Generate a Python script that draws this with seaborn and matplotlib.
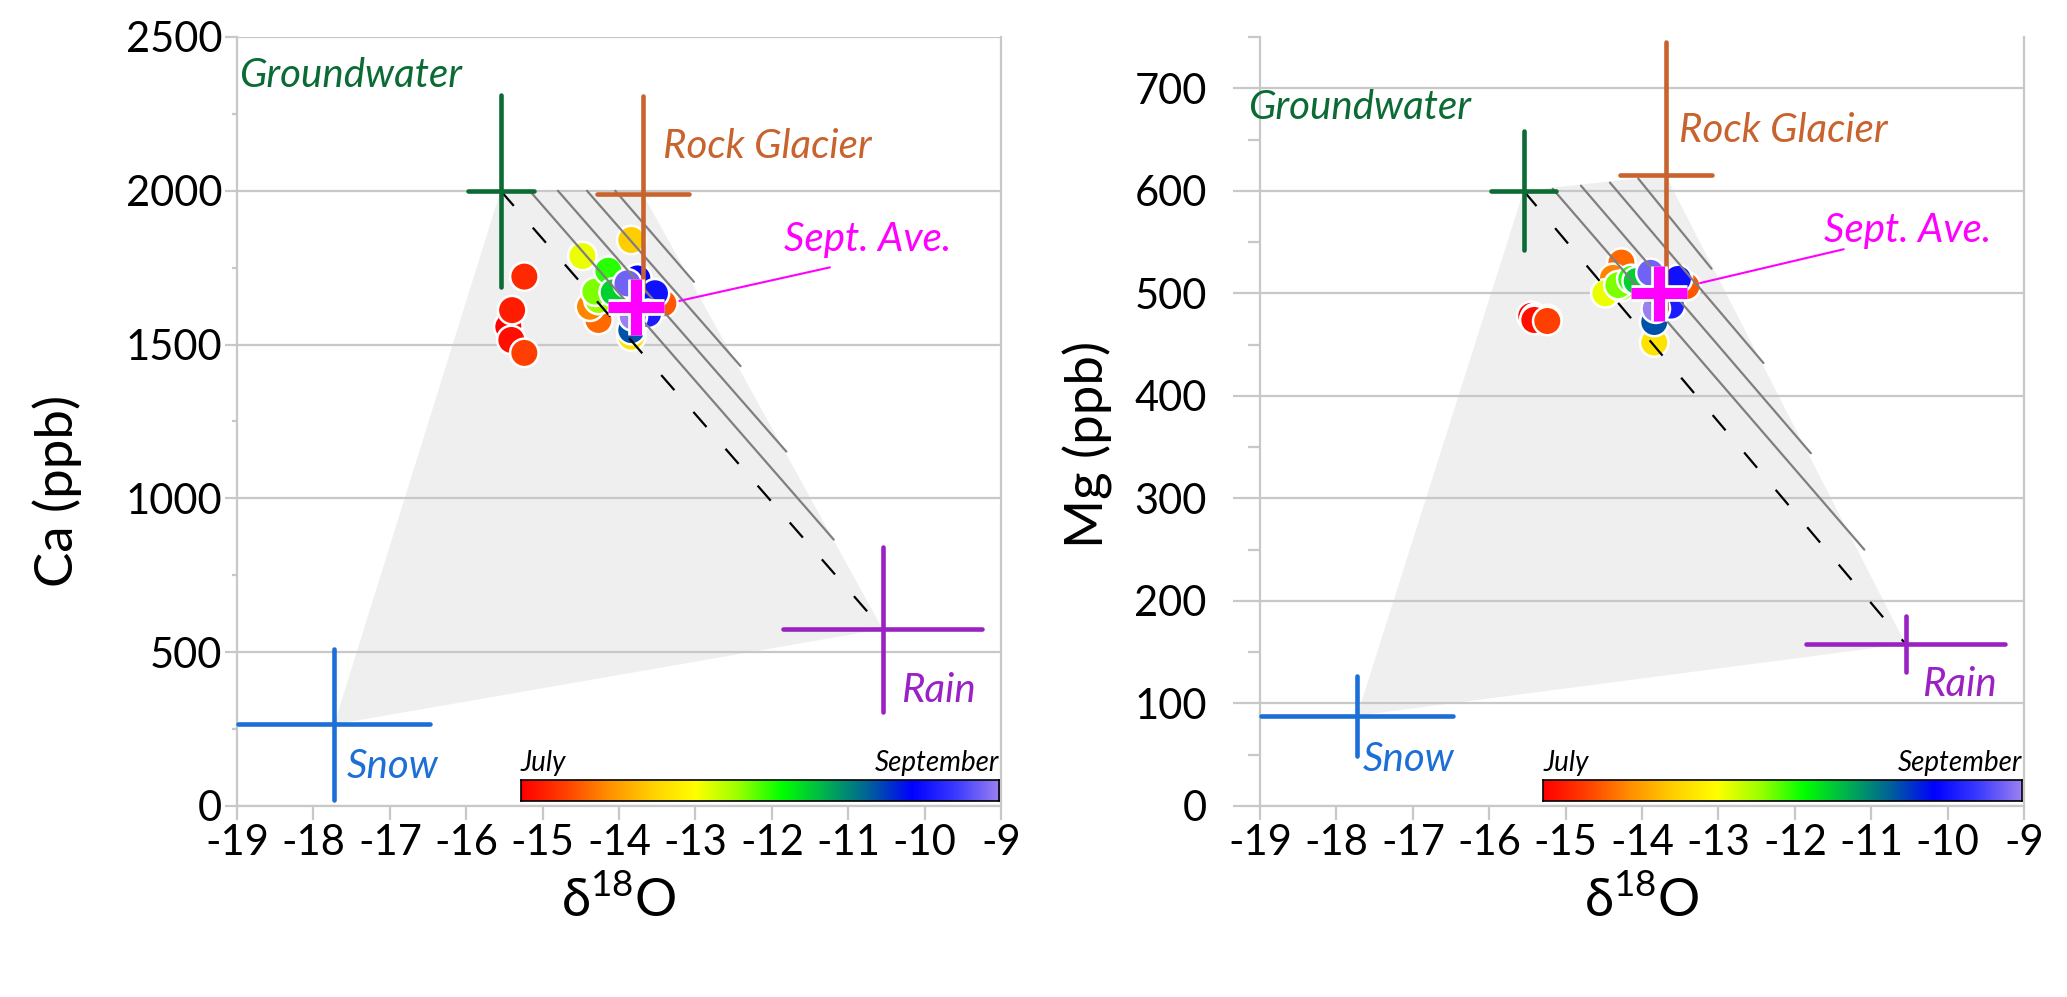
import numpy as np
import pandas as pd
import matplotlib
matplotlib.use("Agg")
import matplotlib.pyplot as plt
import matplotlib.patheffects as pe
import seaborn as sns
from matplotlib.colors import LinearSegmentedColormap
from matplotlib.ticker import MultipleLocator

sns.set_style("white")
plt.rcParams["font.family"] = ["Lato", "DejaVu Sans"]
plt.rcParams["axes.unicode_minus"] = False
plt.rcParams["mathtext.fontset"] = "custom"
plt.rcParams["mathtext.rm"] = "Lato"
plt.rcParams["text.color"] = "black"
plt.rcParams["axes.labelcolor"] = "black"
plt.rcParams["xtick.labelcolor"] = "black"
plt.rcParams["ytick.labelcolor"] = "black"

# stream samples, time fraction 0 = July, 1 = September
sample_time = [0.00, 0.04, 0.06, 0.02, 0.09, 0.14, 0.17, 0.12, 0.27, 0.31, 0.38,
               0.45, 0.47, 0.52, 0.60, 0.74, 0.82, 0.84, 0.86, 0.96, 1.00]
sample_d18o = [-15.45, -15.40, -15.24, -15.41, -15.24, -14.27, -14.38, -13.42, -13.84, -13.84, -14.48,
               -14.27, -14.31, -14.14, -14.07, -13.84, -13.76, -13.53, -13.62, -13.89, -13.82]
sample_ca = [1558, 1612, 1721, 1515, 1473, 1580, 1623, 1634, 1840, 1526, 1788,
             1645, 1672, 1740, 1670, 1547, 1715, 1667, 1600, 1699, 1591]
sample_mg = [478, 476, 475, 474, 473, 530, 515, 507, 515, 452, 500,
             506, 508, 514, 512, 472, 514, 514, 488, 520, 485]

# end members: Groundwater, Rock Glacier, Rain, Snow
end_names = ["Groundwater", "Rock Glacier", "Rain", "Snow"]
end_d18o = [-15.55, -13.69, -10.55, -17.73]
end_d18o_err = [0.43, 0.60, 1.30, 1.26]
end_ca = [2000, 1990, 575, 265]
end_ca_err = [312, 318, 268, 244]
end_mg = [600, 615, 158, 88]
end_mg_err = [58, 130, 27, 39]
end_colors = ["#0B6B34", "#C8632E", "#9A22C4", "#1C6FD6"]

# September average
sept_d18o = -13.78
sept_ca = 1622
sept_mg = 500

# gray reference lines parallel to the groundwater-rain mixing line
ref_start_d18o = [-15.17, -14.80, -14.42, -14.05]
ref_end_d18o_ca = [-11.19, -11.81, -12.41, -13.02]
ref_start_ca = [2000, 2000, 2000, 2000]
ref_end_ca = [866, 1152, 1430, 1704]
ref_end_d18o_mg = [-11.09, -11.79, -12.41, -13.09]
ref_start_mg = [602, 605, 608, 612]
ref_end_mg = [250, 344, 432, 524]

time_colors = ["#FF0000", "#FF4000", "#FF9000", "#FFD000", "#FFFF00", "#99FF00", "#00FF00",
               "#00B050", "#00609A", "#0000FF", "#3A3AFF", "#9A80F0"]
cmap = LinearSegmentedColormap.from_list("season", time_colors)

samples = pd.DataFrame({"t": sample_time, "d18O": sample_d18o, "Ca": sample_ca, "Mg": sample_mg})
ends = pd.DataFrame({"name": end_names, "d18O": end_d18o, "dx": end_d18o_err,
                     "Ca": end_ca, "dCa": end_ca_err, "Mg": end_mg, "dMg": end_mg_err,
                     "color": end_colors})

fig = plt.figure(figsize=(20.67, 9.97), dpi=100)
ax_ca = fig.add_axes([0.1147, 0.1916, 0.3696, 0.7713])
ax_mg = fig.add_axes([0.6096, 0.1916, 0.3696, 0.7713])

panels = [
    dict(ax=ax_ca, col="Ca", err="dCa", sept=sept_ca, ymax=2500, major=500, minor=250,
         ylabel="Ca (ppb)", ylab_pos=(-0.203, 0.41), ref_end_x=ref_end_d18o_ca,
         ref_y0=ref_start_ca, ref_y1=ref_end_ca, tick_len=12, tick_pad=2,
         texts={"Groundwater": (-17.52, 2376, "center"), "Rock Glacier": (-13.43, 2145, "left"),
                "Rain": (-10.31, 377, "left"), "Snow": (-17.57, 128, "left")},
         sept_text=(-11.84, 1841), sept_line=([-13.21, -11.24], [1642, 1751])),
    dict(ax=ax_mg, col="Mg", err="dMg", sept=sept_mg, ymax=750, major=100, minor=50,
         ylabel="Mg (ppb)", ylab_pos=(-0.192, 0.47), ref_end_x=ref_end_d18o_mg,
         ref_y0=ref_start_mg, ref_y1=ref_end_mg, tick_len=27, tick_pad=19,
         texts={"Groundwater": (-17.70, 681, "center"), "Rock Glacier": (-13.52, 659, "left"),
                "Rain": (-10.33, 118, "left"), "Snow": (-17.66, 45, "left")},
         sept_text=(-11.62, 561), sept_line=([-13.24, -11.36], [510, 543])),
]

grid_color = "#C8C8C8"
for p in panels:
    ax = p["ax"]
    col = p["col"]
    ax.set_xlim(-19, -9)
    ax.set_ylim(0, p["ymax"])
    ax.set_axisbelow(True)
    ax.yaxis.set_major_locator(MultipleLocator(p["major"]))
    ax.yaxis.set_minor_locator(MultipleLocator(p["minor"]))
    ax.xaxis.set_major_locator(MultipleLocator(1))
    ax.grid(axis="y", which="major", color=grid_color, lw=1.6)
    for side in ["left", "bottom", "right"]:
        ax.spines[side].set_color(grid_color)
        ax.spines[side].set_linewidth(1.6)
    ax.spines["top"].set_visible(False)
    ax.tick_params(axis="y", which="major", length=p["tick_len"] / 1.389, width=1.6,
                   color=grid_color, pad=p["tick_pad"], labelsize=30, left=True)
    ax.tick_params(axis="y", which="minor", length=p["tick_len"] / 2.3 / 1.389, width=1.6,
                   color=grid_color, left=True)
    ax.tick_params(axis="x", which="major", length=10, width=1.6, color=grid_color,
                   pad=3, labelsize=30, bottom=True)

    # mixing polygon: snow -> groundwater -> rock glacier -> rain
    order = [3, 0, 1, 2]
    ax.fill(ends["d18O"].iloc[order], ends[col].iloc[order], color="#EFEFEF", lw=0, zorder=0.3)

    sns.scatterplot(data=samples, x="d18O", y=col, hue="t", palette=cmap, hue_norm=(0, 1),
                    s=420, edgecolor="white", linewidth=1.8, legend=False, ax=ax, zorder=1)

    # groundwater-rain mixing line
    ax.plot([end_d18o[0], end_d18o[2]], [ends[col][0], ends[col][2]], color="black",
            lw=1.6, dashes=(9, 13), zorder=2)
    for x0, x1, y0, y1 in zip(ref_start_d18o, p["ref_end_x"], p["ref_y0"], p["ref_y1"]):
        ax.plot([x0, x1], [y0, y1], color="#7F7F7F", lw=1.6, zorder=2)

    for _, r in ends.iterrows():
        ax.plot([r["d18O"] - r["dx"], r["d18O"] + r["dx"]], [r[col], r[col]], color=r["color"],
                lw=3.3, solid_capstyle="round", zorder=3, clip_on=False)
        ax.plot([r["d18O"], r["d18O"]], [r[col] - r[p["err"]], r[col] + r[p["err"]]],
                color=r["color"], lw=3.3, solid_capstyle="round", zorder=3, clip_on=False)
        tx, ty, ha = p["texts"][r["name"]]
        ax.text(tx, ty, r["name"], color=r["color"], fontsize=29, style="italic",
                ha=ha, va="center")

    ax.plot(p["sept_line"][0], p["sept_line"][1], color="#FF00FF", lw=1.5, zorder=4)
    ax.plot([sept_d18o], [p["sept"]], marker="+", ms=40, mew=8, color="#FF00FF", zorder=5,
            path_effects=[pe.withStroke(linewidth=12, foreground="white")])
    ax.text(p["sept_text"][0], p["sept_text"][1], "Sept. Ave.", color="#FF00FF", fontsize=29,
            style="italic", ha="left", va="center")

    ax.set_ylabel(p["ylabel"], fontsize=38)
    ax.yaxis.set_label_coords(*p["ylab_pos"])
    ax.set_xlabel(r"δ$^{18}$O", fontsize=38)
    ax.xaxis.set_label_coords(0.5, -0.09)

    # time colour bar
    cax = ax.inset_axes([0.371, 0.007, 0.626, 0.027])
    cax.imshow(np.linspace(0, 1, 256)[None, :], cmap=cmap, aspect="auto")
    cax.set_xticks([])
    cax.set_yticks([])
    for s in cax.spines.values():
        s.set_color("black")
        s.set_linewidth(1.2)
    cax.text(0, 1.2, "July", fontsize=20, style="italic", ha="left", va="bottom",
             transform=cax.transAxes)
    cax.text(1, 1.2, "September", fontsize=20, style="italic", ha="right", va="bottom",
             transform=cax.transAxes)

fig.savefig("out.png", dpi=100)
